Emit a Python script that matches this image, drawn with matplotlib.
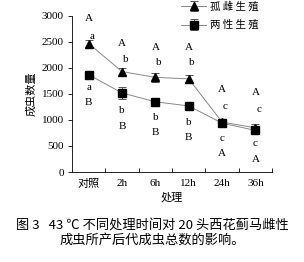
import matplotlib
matplotlib.use('Agg')
import matplotlib.pyplot as plt
import numpy as np

plt.rcParams['font.family'] = ['Liberation Serif', 'Noto Sans CJK SC']
plt.rcParams['axes.unicode_minus'] = False

# data
categories = ['对照', '2h', '6h', '12h', '24h', '36h']
parthenogenesis = [2470, 1930, 1820, 1790, 960, 850]
parthenogenesis_err = [60, 70, 80, 80, 60, 70]
bisexual = [1870, 1520, 1350, 1270, 940, 800]
bisexual_err = [70, 110, 80, 70, 70, 60]

# significance letters above triangles (upper, lower) and below squares (upper, lower)
above_upper = ['A', 'A', 'A', 'A', 'A', 'A']
above_lower = ['a', 'b', 'b', 'b', 'c', 'c']
below_upper = ['a', 'b', 'b', 'b', 'c', 'c']
below_lower = ['B', 'B', 'B', 'B', 'A', 'A']
above_upper_y = [2950, 2480, 2400, 2400, 1580, 1520]
above_lower_y = [2600, 2170, 2115, 2115, 1250, 1210]
below_upper_y = [1620, 1190, 1040, 950, 635, 540]
below_lower_y = [1330, 880, 750, 660, 350, 250]

fig = plt.figure(figsize=(3.04, 2.62), dpi=100)
ax = fig.add_axes([0.237, 0.3435, 0.658, 0.5955])

x = np.arange(len(categories))
ax.errorbar(x, parthenogenesis, yerr=parthenogenesis_err, color='#888888', lw=0.7,
            marker='^', ms=6, mfc='black', mec='black', ecolor='#555555',
            elinewidth=0.7, capsize=3, capthick=0.7, label='孤 雌 生 殖')
ax.errorbar(x, bisexual, yerr=bisexual_err, color='#888888', lw=0.7,
            marker='s', ms=6, mfc='black', mec='black', ecolor='#555555',
            elinewidth=0.7, capsize=3, capthick=0.7, label='两 性 生 殖')

for i in x:
    ax.text(i, above_upper_y[i], above_upper[i], ha='center', va='center', fontsize=8)
    ax.text(i + 0.1, above_lower_y[i], above_lower[i], ha='center', va='center', fontsize=8)
    ax.text(i, below_upper_y[i], below_upper[i], ha='center', va='center', fontsize=8)
    ax.text(i, below_lower_y[i], below_lower[i], ha='center', va='center', fontsize=8)

ax.set_xlim(-0.5, 5.5)
ax.set_ylim(0, 3000)
ax.set_yticks(np.arange(0, 3001, 500))
ax.set_xticks(np.arange(0.5, 5.6, 1))
ax.set_xticklabels([])
ax.set_xticks(x, minor=True)
ax.set_xticklabels(categories, minor=True, family=['Liberation Serif', 'Noto Sans CJK SC'])
ax.tick_params(axis='x', which='major', direction='in', length=3, width=0.6)
ax.tick_params(axis='x', which='minor', length=0, labelsize=8, pad=5)
ax.tick_params(axis='y', direction='out', length=3, width=0.6, labelsize=8, pad=3)
for s in ['top', 'right']:
    ax.spines[s].set_visible(False)
for s in ['left', 'bottom']:
    ax.spines[s].set_linewidth(0.6)

ax.set_ylabel('成虫数量', fontsize=8, family='Noto Sans CJK SC', labelpad=4)
ax.set_xlabel('处理', fontsize=8, family='Noto Sans CJK SC', labelpad=2)

ax.legend(loc='upper right', bbox_to_anchor=(0.96, 1.13), frameon=False,
          prop={'family': 'Noto Sans CJK SC', 'size': 7.5}, borderpad=0,
          handlelength=2.4, handletextpad=0.4, labelspacing=0.8)

fig.text(0.5, 0.14, '图 3   43 ℃ 不同处理时间对 20 头西花蓟马雌性',
         ha='center', va='center', fontsize=9.5,
         family=['Noto Sans CJK SC', 'DejaVu Sans'])
fig.text(0.5, 0.083, '成虫所产后代成虫总数的影响。',
         ha='center', va='center', fontsize=9.5, family='Noto Sans CJK SC')

fig.savefig('out.png', dpi=100)
